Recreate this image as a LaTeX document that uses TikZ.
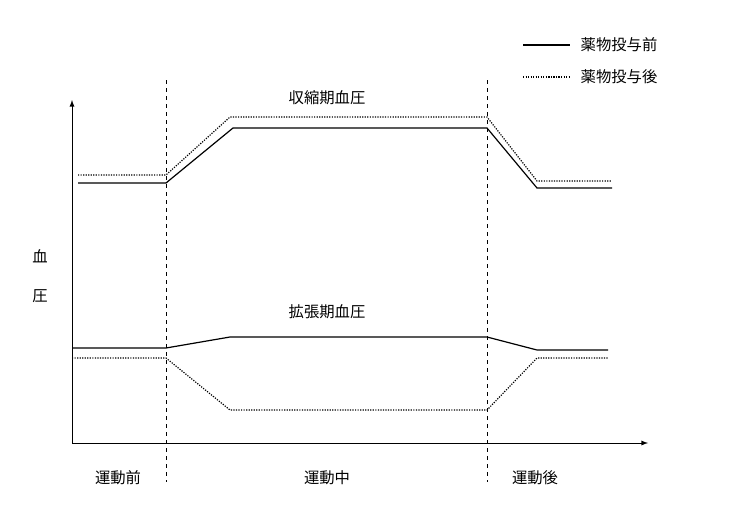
\documentclass[tikz,border=0pt]{standalone}
\usepackage{fontspec}
\newfontfamily\cjk{Noto Sans CJK JP}
\begin{document}
\begin{tikzpicture}[x=0.75pt,y=-0.75pt,
  lbl/.style={font=\cjk\fontsize{11.5}{13}\selectfont},
  ln/.style={line width=0.9pt},
  dl/.style={line width=0.9pt,densely dotted},
  vd/.style={dashed,line width=0.6pt}]
\useasboundingbox (0,0) rectangle (730,510);
\coordinate (o) at (72,443);
\coordinate (yt) at (72,100);
\coordinate (xr) at (648,443);
\draw[-latex,line width=0.7pt] (o) -- (yt);
\draw[-latex,line width=0.7pt] (o) -- (xr);
\coordinate (d1a) at (166,80); \coordinate (d1b) at (166,482);
\coordinate (d2a) at (487,80); \coordinate (d2b) at (487,482);
\draw[vd] (d1a) -- (d1b);
\draw[vd] (d2a) -- (d2b);
\draw[ln] (78,183) -- (166,183) -- (233,128) -- (487,128) -- (537,188) -- (612,188);
\draw[dl] (78,175) -- (166,175) -- (230,117) -- (487,117) -- (537,181) -- (612,181);
\draw[ln] (72,348) -- (166,348) -- (230,337) -- (487,337) -- (537,350) -- (608,350);
\draw[dl] (72,358) -- (166,358) -- (230,410) -- (487,410) -- (537,358) -- (608,358);
\node[lbl] (s) at (327,98) {収縮期血圧};
\node[lbl] (d) at (327,312) {拡張期血圧};
\node[lbl] (y1) at (40,256) {血};
\node[lbl] (y2) at (40,296) {圧};
\node[lbl] (p1) at (118,478) {運動前};
\node[lbl] (p2) at (327,478) {運動中};
\node[lbl] (p3) at (535,478) {運動後};
\coordinate (l1a) at (523,45); \coordinate (l1b) at (570,45);
\coordinate (l2a) at (523,77); \coordinate (l2b) at (570,77);
\draw[ln] (l1a) -- (l1b);
\draw[dl] (l2a) -- (l2b);
\node[lbl,anchor=west] (t1) at (576,45) {薬物投与前};
\node[lbl,anchor=west] (t2) at (576,77) {薬物投与後};
\end{tikzpicture}
\end{document}
